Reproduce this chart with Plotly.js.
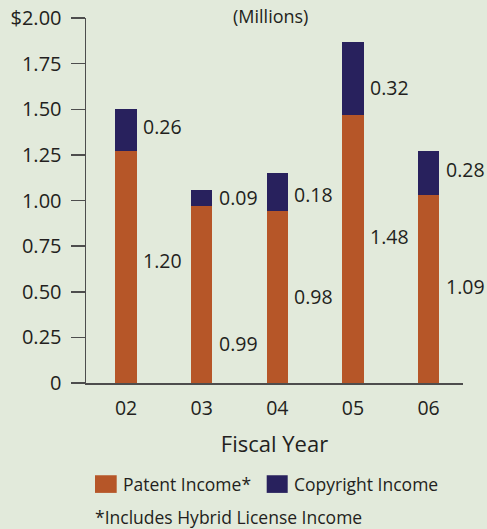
<!DOCTYPE html>
<html>
<head>
<meta charset="utf-8">
<script src="https://cdn.plot.ly/plotly-3.0.1.min.js"></script>
<style>html,body{margin:0;padding:0;background:#e2eadb;}</style>
</head>
<body>
<div id="chart" style="width:487px;height:529px;"></div>
<script>
// ---- data ----
const years = ["02", "03", "04", "05", "06"];
const patentIncome = [1.27, 0.97, 0.94, 1.47, 1.03];
const copyrightIncome = [0.23, 0.09, 0.21, 0.40, 0.24];
const patentLabels = ["1.20", "0.99", "0.98", "1.48", "1.09"];
const copyrightLabels = ["0.26", "0.09", "0.18", "0.32", "0.28"];
const yTickVals = [0, 0.25, 0.5, 0.75, 1.0, 1.25, 1.5, 1.75, 2.0];
const yTickText = ["0", "0.25", "0.50", "0.75", "1.00", "1.25", "1.50", "1.75", "$2.00"];
const seriesNames = ["Patent Income*", "Copyright Income"];

// ---- styling / layout ----
const bg = "#e2eadb";
const orange = "#b65628";
const navy = "#28215d";
const txt = "#231f20";
const fontFam = "'Open Sans', sans-serif";
const patentShift = [7, -49, 1, 12, 3];
const copyShift = [4, 0, -2, -9, 4];

const L = 86, R = 24, T = 17.5, B = 145.5;
const W = 487, H = 529;
const pw = W - L - R, ph = H - T - B;
const px = x => (x - L) / pw;
const py = y => (H - B - y) / ph;

const traces = [
  {type: "bar", x: years, y: patentIncome, name: seriesNames[0],
   marker: {color: orange}, width: 0.28, hoverinfo: "skip"},
  {type: "bar", x: years, y: copyrightIncome, name: seriesNames[1],
   marker: {color: navy}, width: 0.28, hoverinfo: "skip"}
];

const lblFont = {size: 19.5, color: txt, family: fontFam};
const annotations = [];
years.forEach((yr, i) => {
  annotations.push({x: i, y: patentIncome[i] / 2, xref: "x", yref: "y",
    text: patentLabels[i], showarrow: false, xanchor: "left", yanchor: "middle",
    xshift: 15, yshift: patentShift[i], font: lblFont});
  annotations.push({x: i, y: patentIncome[i] + copyrightIncome[i] / 2, xref: "x", yref: "y",
    text: copyrightLabels[i], showarrow: false, xanchor: "left", yanchor: "middle",
    xshift: 15, yshift: copyShift[i], font: lblFont});
});
// title (kept fully visible at the top edge)
annotations.push({x: px(270), y: py(1), xref: "paper", yref: "paper", text: "(Millions)",
  showarrow: false, xanchor: "center", yanchor: "top",
  font: {size: 18, color: txt, family: fontFam}});
// legend texts
annotations.push({x: px(121), y: py(485), xref: "paper", yref: "paper", text: seriesNames[0],
  showarrow: false, xanchor: "left", yanchor: "middle", font: {size: 17.5, color: txt, family: fontFam}});
annotations.push({x: px(292), y: py(485), xref: "paper", yref: "paper", text: seriesNames[1],
  showarrow: false, xanchor: "left", yanchor: "middle", font: {size: 17.5, color: txt, family: fontFam}});
// footnote
annotations.push({x: px(93), y: py(518), xref: "paper", yref: "paper", text: "*Includes Hybrid License Income",
  showarrow: false, xanchor: "left", yanchor: "middle", font: {size: 17.5, color: txt, family: fontFam}});

const shapes = [
  {type: "rect", xref: "paper", yref: "paper", x0: px(95), x1: px(116.7), y0: py(476), y1: py(493.7),
   fillcolor: orange, line: {width: 0}},
  {type: "rect", xref: "paper", yref: "paper", x0: px(266.7), x1: px(287.7), y0: py(476), y1: py(493.7),
   fillcolor: navy, line: {width: 0}}
];

const layout = {
  width: W, height: H,
  margin: {l: L, r: R, t: T, b: B, pad: 0},
  paper_bgcolor: bg, plot_bgcolor: bg,
  barmode: "stack",
  showlegend: false,
  font: {family: fontFam, color: txt, size: 19},
  xaxis: {
    type: "category", range: [-0.53, 4.455], fixedrange: true,
    showline: true, linecolor: "#4d4d4d", linewidth: 1.5,
    showgrid: false, zeroline: false, ticks: "",
    tickfont: {size: 19.5, color: txt, family: fontFam},
    ticklabelstandoff: 7,
    title: {text: "Fiscal Year", font: {size: 22, color: txt, family: fontFam}, standoff: 16},
    automargin: false
  },
  yaxis: {
    range: [0, 2], fixedrange: true,
    showline: true, linecolor: "#4d4d4d", linewidth: 1.5,
    showgrid: false, zeroline: false,
    ticks: "outside", ticklen: 14, tickwidth: 1.5, tickcolor: "#4d4d4d",
    tickvals: yTickVals, ticktext: yTickText,
    tickfont: {size: 20, color: txt, family: fontFam},
    ticklabelstandoff: 5,
    automargin: false
  },
  annotations: annotations,
  shapes: shapes
};

Plotly.newPlot("chart", traces, layout, {staticPlot: true, displayModeBar: false});
</script>
</body>
</html>
